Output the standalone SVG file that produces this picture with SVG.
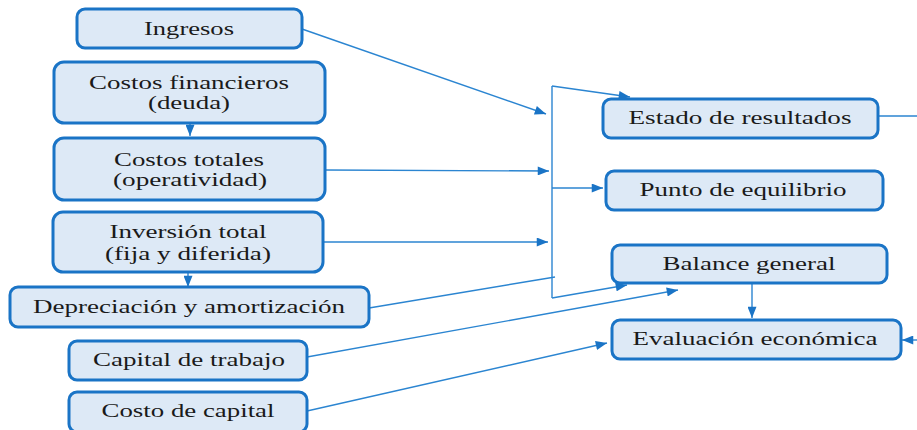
<svg xmlns="http://www.w3.org/2000/svg" width="917" height="430" viewBox="0 0 917 430">
<style>
.box{fill:#dde9f6;stroke:#1a74c6;stroke-width:3}
.lbl{font-family:"Liberation Serif","DejaVu Serif","Times New Roman",serif;font-size:18px;fill:#1a1a1a;text-anchor:middle}
.ln{fill:none;stroke:#2b85d1;stroke-width:1.4}
</style>
<defs>
<marker id="ah" viewBox="0 0 10 8" refX="10" refY="4" markerWidth="12" markerHeight="9" markerUnits="userSpaceOnUse" orient="auto">
<path d="M0,0 L10,4 L0,8 Z" fill="#1a74c6"/>
</marker>
</defs>
<rect width="917" height="430" fill="#ffffff"/>
<g id="connectors">
<line class="ln" x1="302" y1="29" x2="546" y2="114" marker-end="url(#ah)"/>
<line class="ln" x1="190" y1="123" x2="190" y2="136" marker-end="url(#ah)"/>
<line class="ln" x1="325" y1="170" x2="549" y2="171" marker-end="url(#ah)"/>
<line class="ln" x1="323" y1="242" x2="548" y2="242" marker-end="url(#ah)"/>
<line class="ln" x1="188" y1="272" x2="188" y2="287" marker-end="url(#ah)"/>
<line class="ln" x1="369" y1="308" x2="555" y2="277"/>
<line class="ln" x1="552" y1="86" x2="552" y2="298"/>
<line class="ln" x1="552" y1="86" x2="630" y2="97" marker-end="url(#ah)"/>
<line class="ln" x1="552" y1="298" x2="627" y2="285" marker-end="url(#ah)"/>
<line class="ln" x1="552" y1="188" x2="603" y2="188" marker-end="url(#ah)"/>
<line class="ln" x1="307" y1="357" x2="678" y2="290" marker-end="url(#ah)"/>
<line class="ln" x1="307" y1="411" x2="607" y2="343" marker-end="url(#ah)"/>
<line class="ln" x1="752" y1="283" x2="752" y2="318" marker-end="url(#ah)"/>
<line class="ln" x1="878" y1="116" x2="917" y2="116"/>
<line class="ln" x1="917" y1="340" x2="902" y2="340" marker-end="url(#ah)"/>
</g>
<g id="ingresos"><rect class="box" x="77" y="9" width="225" height="39" rx="8"/><text class="lbl" x="189" y="35" textLength="90" lengthAdjust="spacingAndGlyphs">Ingresos</text></g>
<g id="costos-financieros"><rect class="box" x="54" y="62" width="271" height="61" rx="10"/><text class="lbl" x="189" y="89" textLength="200" lengthAdjust="spacingAndGlyphs">Costos financieros</text><text class="lbl" x="189" y="109" textLength="82" lengthAdjust="spacingAndGlyphs">(deuda)</text></g>
<g id="costos-totales"><rect class="box" x="54" y="138" width="271" height="62" rx="10"/><text class="lbl" x="189" y="166" textLength="150" lengthAdjust="spacingAndGlyphs">Costos totales</text><text class="lbl" x="190" y="186" textLength="154" lengthAdjust="spacingAndGlyphs">(operatividad)</text></g>
<g id="inversion-total"><rect class="box" x="53" y="212" width="270" height="60" rx="10"/><text class="lbl" x="188" y="238" textLength="157" lengthAdjust="spacingAndGlyphs">Inversión total</text><text class="lbl" x="188" y="260" textLength="166" lengthAdjust="spacingAndGlyphs">(fija y diferida)</text></g>
<g id="depreciacion"><rect class="box" x="10" y="287" width="359" height="40" rx="8"/><text class="lbl" x="189" y="313" textLength="312" lengthAdjust="spacingAndGlyphs">Depreciación y amortización</text></g>
<g id="capital-trabajo"><rect class="box" x="69" y="341" width="238" height="39" rx="8"/><text class="lbl" x="189" y="366" textLength="192" lengthAdjust="spacingAndGlyphs">Capital de trabajo</text></g>
<g id="costo-capital"><rect class="box" x="69" y="392" width="238" height="40" rx="8"/><text class="lbl" x="188" y="417" textLength="173" lengthAdjust="spacingAndGlyphs">Costo de capital</text></g>
<g id="estado-resultados"><rect class="box" x="603" y="99" width="275" height="39" rx="8"/><text class="lbl" x="740" y="124" textLength="223" lengthAdjust="spacingAndGlyphs">Estado de resultados</text></g>
<g id="punto-equilibrio"><rect class="box" x="606" y="171" width="277" height="39" rx="8"/><text class="lbl" x="743" y="196" textLength="207" lengthAdjust="spacingAndGlyphs">Punto de equilibrio</text></g>
<g id="balance-general"><rect class="box" x="612" y="245" width="275" height="38" rx="8"/><text class="lbl" x="749" y="270" textLength="173" lengthAdjust="spacingAndGlyphs">Balance general</text></g>
<g id="evaluacion-economica"><rect class="box" x="612" y="320" width="289" height="39" rx="8"/><text class="lbl" x="755" y="345" textLength="245" lengthAdjust="spacingAndGlyphs">Evaluación económica</text></g>
</svg>
